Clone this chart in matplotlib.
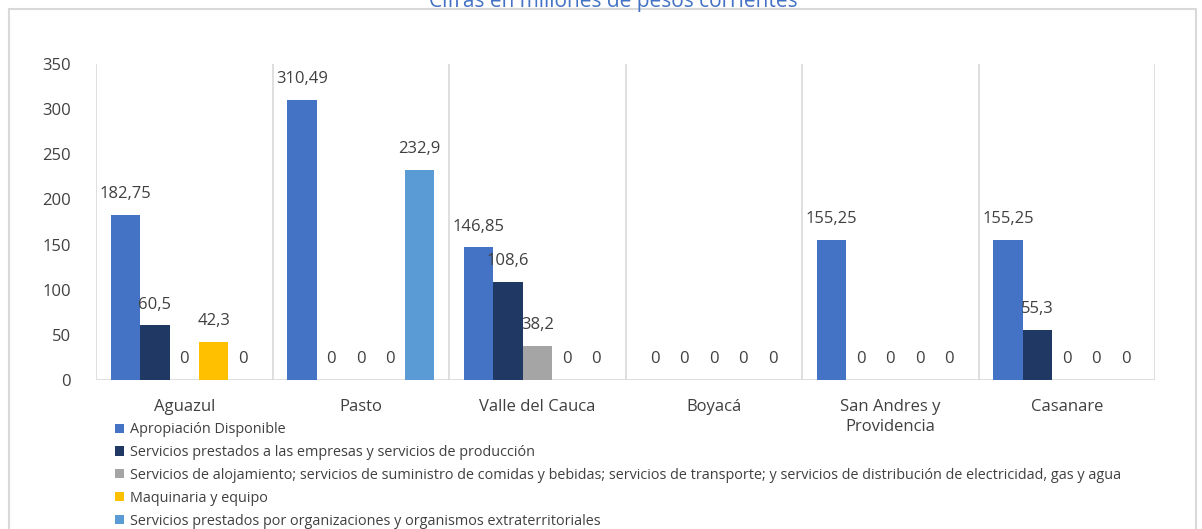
import matplotlib.pyplot as plt
import numpy as np
from matplotlib.patches import Rectangle

plt.rcParams["font.family"] = ["Open Sans", "DejaVu Sans"]

categories = ["Aguazul", "Pasto", "Valle del Cauca", "Boyacá",
              "San Andres y\nProvidencia", "Casanare"]
series_names = [
    "Apropiación Disponible",
    "Servicios prestados a las empresas y servicios de producción",
    "Servicios de alojamiento; servicios de suministro de comidas y bebidas; "
    "servicios de transporte; y servicios de distribución de electricidad, gas y agua",
    "Maquinaria y equipo",
    "Servicios prestados por organizaciones y organismos extraterritoriales",
]
# one list per series, one value per category
apropiacion = [182.75, 310.49, 146.85, 0, 155.25, 155.25]
serv_empresas = [60.5, 0, 108.6, 0, 0, 55.3]
serv_alojamiento = [0, 0, 38.2, 0, 0, 0]
maquinaria = [42.3, 0, 0, 0, 0, 0]
serv_extraterr = [0, 232.9, 0, 0, 0, 0]

series = [apropiacion, serv_empresas, serv_alojamiento, maquinaria, serv_extraterr]
colors = ["#4472C4", "#203864", "#A5A5A5", "#FFC000", "#5B9BD5"]

fig = plt.figure(figsize=(12.02, 5.29), dpi=100)
ax = fig.add_axes([96 / 1202, 1 - 380 / 529, (1155 - 96) / 1202, (380 - 64) / 529])

x = np.arange(len(categories))
width = 1 / 6
handles = []
for i, (vals, col) in enumerate(zip(series, colors)):
    pos = x + (i - 2) * width
    b = ax.bar(pos, vals, width, color=col, zorder=2)
    handles.append(b)
    for p, v in zip(pos, vals):
        txt = f"{v:g}".replace(".", ",")
        ax.annotate(txt, (p, v), xytext=(0, 15), textcoords="offset points",
                    ha="center", va="center", fontsize=12, color="#404040", zorder=3)

for k in range(len(categories) + 1):
    ax.axvline(k - 0.5, ymin=0, ymax=1, color="#D9D9D9", lw=1.2, zorder=1)
ax.axhline(0, color="#D9D9D9", lw=1.2, zorder=1)

ax.set_xlim(-0.5, len(categories) - 0.5)
ax.set_ylim(0, 350)
ax.set_yticks(np.arange(0, 351, 50))
ax.set_xticks(x)
ax.set_xticklabels(categories, fontsize=12, color="#404040", linespacing=1.3)
ax.tick_params(axis="y", labelsize=12, labelcolor="#404040", length=0, pad=18)
ax.tick_params(axis="x", length=0, pad=14)
for s in ax.spines.values():
    s.set_visible(False)

leg = fig.legend(handles, series_names, loc="upper left",
                 bbox_to_anchor=(108 / 1202, 1 - 415 / 529), frameon=False,
                 fontsize=10.35, handlelength=0.6, handleheight=0.6,
                 handletextpad=0.4, labelspacing=0.55, borderpad=0,
                 labelcolor="#404040")

fig.patches.append(Rectangle((9 / 1202, -0.1), (1196 - 9) / 1202, 1.1 - 9 / 529,
                             transform=fig.transFigure, fill=False,
                             edgecolor="#D9D9D9", lw=1.5))
fig.text(0.51, 1 - 1 / 529, "Cifras en millones de pesos corrientes",
         ha="center", va="center", fontsize=15, color="#4472C4")

fig.savefig("out.png", dpi=100)
